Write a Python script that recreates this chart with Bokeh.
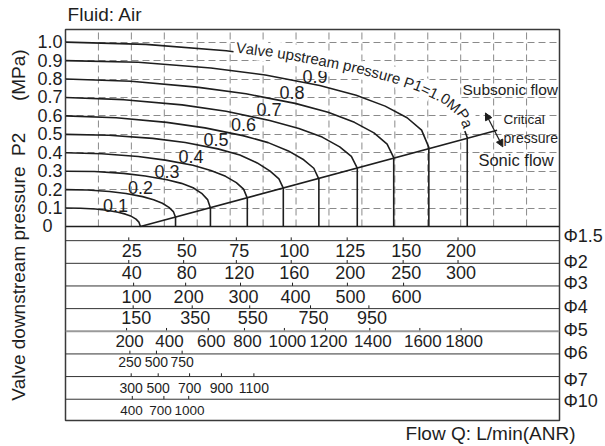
import math
import numpy as np
from bokeh.plotting import figure
from bokeh.models import (Range1d, FixedTicker, Span, Label, Arrow, NormalHead, LinearAxis,
                          PrintfTickFormatter)
from bokeh.core.properties import value
from bokeh.embed import file_html
from bokeh.resources import INLINE

# ---------------- data (x: flow on the Phi1.5 scale, L/min; y: P2 in MPa) ----------------
q_01 = [-3.8, 3.0, 9.8, 14.9, 20.1, 23.5, 26.2, 28.3, 29.6, 30.3]
p_01 = [0.100, 0.099, 0.095, 0.088, 0.077, 0.067, 0.055, 0.040, 0.024, 0.0]
q_02 = [-3.8, 6.2, 16.2, 23.7, 31.3, 36.3, 40.3, 43.3, 45.3, 46.3, 46.3]
p_02 = [0.200, 0.198, 0.190, 0.179, 0.162, 0.145, 0.126, 0.104, 0.081, 0.050, 0.0]
q_03 = [-3.8, 9.4, 22.6, 32.5, 42.4, 49.0, 54.3, 58.2, 60.9, 62.2, 62.2]
p_03 = [0.300, 0.298, 0.288, 0.274, 0.254, 0.234, 0.210, 0.180, 0.146, 0.100, 0.0]
q_04 = [-3.8, 12.7, 29.3, 41.7, 54.2, 62.4, 69.1, 74.0, 77.3, 79.0, 79.0]
p_04 = [0.400, 0.395, 0.380, 0.360, 0.332, 0.304, 0.272, 0.238, 0.203, 0.154, 0.0]
q_05 = [-3.8, 16.0, 35.9, 50.7, 65.6, 75.6, 83.5, 89.4, 93.4, 95.4, 95.4]
p_05 = [0.500, 0.495, 0.478, 0.456, 0.421, 0.388, 0.345, 0.300, 0.258, 0.208, 0.0]
q_06 = [-3.8, 19.3, 42.3, 59.7, 77.0, 88.5, 97.7, 104.7, 109.3, 111.6, 111.6]
p_06 = [0.600, 0.590, 0.565, 0.535, 0.493, 0.455, 0.410, 0.362, 0.316, 0.257, 0.0]
q_07 = [-3.8, 22.8, 49.3, 69.3, 89.2, 102.5, 113.1, 121.1, 126.4, 129.1, 129.1]
p_07 = [0.700, 0.688, 0.660, 0.625, 0.575, 0.532, 0.485, 0.432, 0.380, 0.317, 0.0]
q_08 = [-3.8, 26.1, 56.0, 78.4, 100.8, 115.8, 127.8, 136.7, 142.7, 145.7, 145.7]
p_08 = [0.800, 0.788, 0.756, 0.720, 0.668, 0.620, 0.565, 0.508, 0.447, 0.374, 0.0]
q_09 = [-3.8, 29.3, 62.4, 87.2, 112.0, 128.6, 141.8, 151.8, 158.4, 161.7, 161.7]
p_09 = [0.900, 0.891, 0.860, 0.822, 0.765, 0.712, 0.653, 0.590, 0.523, 0.429, 0.0]
q_10 = [-3.8, 32.8, 69.4, 96.8, 124.3, 142.6, 157.2, 168.2, 175.5, 179.2, 179.2]
p_10 = [1.000, 0.988, 0.953, 0.910, 0.848, 0.792, 0.732, 0.668, 0.600, 0.483, 0.0]

crit_q = [30.3, 192.8]
crit_p = [0.0, 0.522]

curve_names = ["0.1", "0.2", "0.3", "0.4", "0.5", "0.6", "0.7", "0.8", "0.9"]
y_ticks = [0.0, 0.1, 0.2, 0.3, 0.4, 0.5, 0.6, 0.7, 0.8, 0.9, 1.0]

row_names = ["\u03a61.5", "\u03a62", "\u03a63", "\u03a64", "\u03a65", "\u03a66", "\u03a67", "\u03a610"]
phi15_lab = ["25", "50", "75", "100", "125", "150", "200"]
phi15_at = [25, 50, 74, 99, 124.5, 150, 175]
phi2_lab = ["40", "80", "120", "160", "200", "250", "300"]
phi2_at = [25, 50, 74, 99, 124.5, 150, 175]
phi3_lab = ["100", "200", "300", "400", "500", "600"]
phi3_at = [27.2, 50.9, 75.9, 99.6, 124.6, 150.2]
phi4_lab = ["150", "350", "550", "750", "950"]
phi4_at = [27.0, 53.9, 80.1, 107.8, 134.4]
phi5_lab = ["200", "400", "600", "800", "1000", "1200", "1400", "1600", "1800"]
phi5_at = [24.0, 42.2, 61.2, 77.7, 95.9, 114.6, 134.8, 157.6, 176.4]
phi6_lab = ["250", "500", "750"]
phi6_at = [25.5, 37.6, 49.3]
phi7_lab = ["300", "500", "700", "900", "1100"]
phi7_at = [26.1, 38.4, 52.7, 67.2, 82.0]
phi10_lab = ["400", "700", "1000"]
phi10_at = [26.6, 41.0, 52.3]

title_text = "Fluid: Air"
x_title_text = "Flow Q: L/min(ANR)"
y_title_text = "Valve downstream pressure\u00a0\u00a0P2\u00a0\u00a0\u00a0\u00a0\u00a0\u00a0(MPa)"
curve_title = "Valve upstream pressure P1=1.0MPa"

# ---------------- layout ----------------
W, H = 605, 446
FL, FT, FR, FB = 65, 29, 46, 25
FW, FH = W - FL - FR, H - FT - FB
X0, X1 = -3.83, 221.23
Y0, Y1 = -1.0525, 1.0687
T0, T1 = -7.939, 9.322
KX = FW / (X1 - X0)
KY = FH / (Y1 - Y0)
KT = FH / (T1 - T0)

FONT = "Liberation Sans"
INK = "#1e1e1e"

p = figure(width=W, height=H, output_backend="svg", toolbar_location=None, title=None,
           x_range=Range1d(X0, X1), y_range=Range1d(Y0, Y1), x_axis_location=None,
           min_border_left=FL, min_border_right=FR, min_border_top=FT, min_border_bottom=FB,
           background_fill_color="white", border_fill_color="white",
           outline_line_color="#3a3a3a", outline_line_width=1.5)
p.extra_y_ranges = {"tbl": Range1d(T0, T1)}


def bare(ax):
    ax.major_tick_in = 0
    ax.major_tick_out = 0
    ax.minor_tick_in = 0
    ax.minor_tick_out = 0
    ax.axis_line_color = None
    ax.major_label_text_font = FONT
    ax.major_label_text_color = INK


yax = p.yaxis[0]
bare(yax)
yax.ticker = FixedTicker(ticks=y_ticks)
yax.formatter = PrintfTickFormatter(format="%.1f")
yax.major_label_overrides = {0: "0\u00a0\u00a0"}
yax.major_label_text_font_size = "18px"
yax.major_label_standoff = 3
yax.axis_label = y_title_text
yax.axis_label_text_font = FONT
yax.axis_label_text_font_size = "19px"
yax.axis_label_text_font_style = "normal"
yax.axis_label_text_color = INK
yax.axis_label_standoff = 5

# title above, flow caption below, orifice names at right (axis labels outside the frame)
tax = LinearAxis(ticker=FixedTicker(ticks=[14.2]), major_label_overrides={14.2: title_text})
bare(tax)
tax.major_label_text_font_size = "19px"
tax.major_label_standoff = 5
p.add_layout(tax, "above")

bax = LinearAxis(ticker=FixedTicker(ticks=[189.8]), major_label_overrides={189.8: x_title_text})
bare(bax)
bax.major_label_text_font_size = "19px"
bax.major_label_standoff = 2
p.add_layout(bax, "below")

name_y = [0.207, -0.938, -1.863, -2.92, -3.93, -4.94, -6.13, -7.10]
rax = LinearAxis(y_range_name="tbl", ticker=FixedTicker(ticks=name_y),
                 major_label_overrides={t: n for t, n in zip(name_y, row_names)})
bare(rax)
rax.major_label_text_font_size = "18px"
rax.major_label_standoff = 4
p.add_layout(rax, "right")

p.xgrid.visible = False
p.ygrid.ticker = FixedTicker(ticks=y_ticks[1:])
p.ygrid.grid_line_color = "#8a8a8a"
p.ygrid.grid_line_dash = "7 4"
p.ygrid.grid_line_width = 1

col = (X1 - X0) / 15.0
vx = [X0 + col * k for k in range(1, 15)]
p.segment(x0=vx, y0=[0] * len(vx), x1=vx, y1=[Y1] * len(vx),
          line_color="#8a8a8a", line_dash="7 4", line_width=1)

p.add_layout(Span(location=0, dimension="width", line_color=INK, line_width=1.5))

curves = [(q_01, p_01), (q_02, p_02), (q_03, p_03), (q_04, p_04), (q_05, p_05),
          (q_06, p_06), (q_07, p_07), (q_08, p_08), (q_09, p_09), (q_10, p_10)]
for cq, cp in curves:
    p.line(cq, cp, line_color=INK, line_width=1.6)
p.line(crit_q, crit_p, line_color=INK, line_width=1.6)

# curve value labels (visual centres)
lab_x = [18.95, 30.3, 42.4, 53.3, 64.7, 77.3, 88.9, 99.4, 109.8]
lab_y = [0.1136, 0.2137, 0.2976, 0.3788, 0.4708, 0.5547, 0.6358, 0.7251, 0.8117]
p.text(x=lab_x, y=lab_y, text=curve_names, text_align="center", text_baseline="middle",
       text_font=value(FONT), text_font_size="18px", text_color=INK)

# text set along the P1=1.0 curve
CW = {' ': 0.278, 'V': 0.667, 'a': 0.556, 'l': 0.222, 'v': 0.5, 'e': 0.556, 'u': 0.556,
      'p': 0.556, 's': 0.5, 't': 0.278, 'r': 0.333, 'm': 0.833, 'P': 0.667, '1': 0.556,
      '=': 0.584, '.': 0.278, '0': 0.556, 'M': 0.833}
sx = (np.array(q_10[:-1]) - X0) * KX
sy = (np.array(p_10[:-1]) - Y0) * KY
sarc = np.concatenate([[0.0], np.cumsum(np.hypot(np.diff(sx), np.diff(sy)))])


def pt(v):
    return float(np.interp(v, sarc, sx)), float(np.interp(v, sarc, sy))


fs = 15
off = 5.0
s_cur = float(np.interp(235 - FL, sx, sarc))
tx, ty, ta, tt = [], [], [], []
for ch in curve_title:
    w = CW[ch] * fs
    sc = min(s_cur + w / 2, sarc[-1])
    xa, ya = pt(sc - 6)
    xb, yb = pt(sc + 6)
    a = math.atan2(yb - ya, xb - xa)
    px_, py_ = pt(sc)
    px_ += -math.sin(a) * off
    py_ += math.cos(a) * off
    tx.append(X0 + px_ / KX)
    ty.append(Y0 + py_ / KY)
    ta.append(a)
    tt.append(ch)
    s_cur += w
# first pass: white masks under every character; second pass: the characters
p.text(x=tx, y=ty, text=tt, angle=ta, text_align="center", text_baseline="middle",
       text_font=value(FONT), text_font_size="15px", text_alpha=0.0,
       background_fill_color="white", padding=2)
p.text(x=tx, y=ty, text=tt, angle=ta, text_align="center", text_baseline="middle",
       text_font=value(FONT), text_font_size="15px", text_color=INK)

# annotations inside the plot (visual centres)
p.add_layout(Label(x=177.0, y=0.744, text="Subsonic flow", text_font=FONT,
                   text_font_size="15.5px", text_color=INK, text_baseline="middle"))
p.add_layout(Label(x=195.7, y=0.582, text="Critical", text_font=FONT,
                   text_font_size="13.5px", text_color=INK, text_baseline="middle"))
p.add_layout(Label(x=195.7, y=0.4827, text="pressure", text_font=FONT,
                   text_font_size="14px", text_color=INK, text_baseline="middle"))
p.add_layout(Label(x=184.3, y=0.361, text="Sonic flow", text_font=FONT,
                   text_font_size="16.5px", text_color=INK, text_baseline="middle"))
p.add_layout(Arrow(start=NormalHead(size=7, fill_color=INK, line_color=INK),
                   end=NormalHead(size=7, fill_color=INK, line_color=INK),
                   x_start=187.5, y_start=0.616, x_end=195.4, y_end=0.432,
                   line_color=INK, line_width=1.2))

# ---------------- orifice table ----------------
rows = [(phi15_lab, phi15_at), (phi2_lab, phi2_at), (phi3_lab, phi3_at), (phi4_lab, phi4_at),
        (phi5_lab, phi5_at), (phi6_lab, phi6_at), (phi7_lab, phi7_at), (phi10_lab, phi10_at)]
row_drop = [9.8, 9.6, 10.2, 9.2, 9.8, 8.2, 11.0, 11.6]
row_size = ["18px", "18px", "18px", "18px", "17px", "14px", "14px", "13.5px"]
row_dx = [3, 3, 3, 3, 3, 0, 0, [-0.7, -3.3, 0.7]]

for i, (labs, at) in enumerate(rows):
    gray = (i == 4)
    p.add_layout(Span(location=-i, dimension="width", y_range_name="tbl",
                      line_color="#9a9a9a" if gray else "#333333",
                      line_width=2 if gray else 1))
    p.segment(x0=at, y0=[-i] * len(at), x1=at, y1=[-i + 3.3 / KT] * len(at),
              y_range_name="tbl", line_color=INK, line_width=1)
    p.text(x=at, y=[-i - row_drop[i] / KT] * len(at), text=labs, x_offset=row_dx[i],
           y_range_name="tbl", text_align="center", text_baseline="middle",
           text_font=value(FONT), text_font_size=row_size[i], text_color=INK)

open("out.html", "w").write(file_html(p, INLINE))
